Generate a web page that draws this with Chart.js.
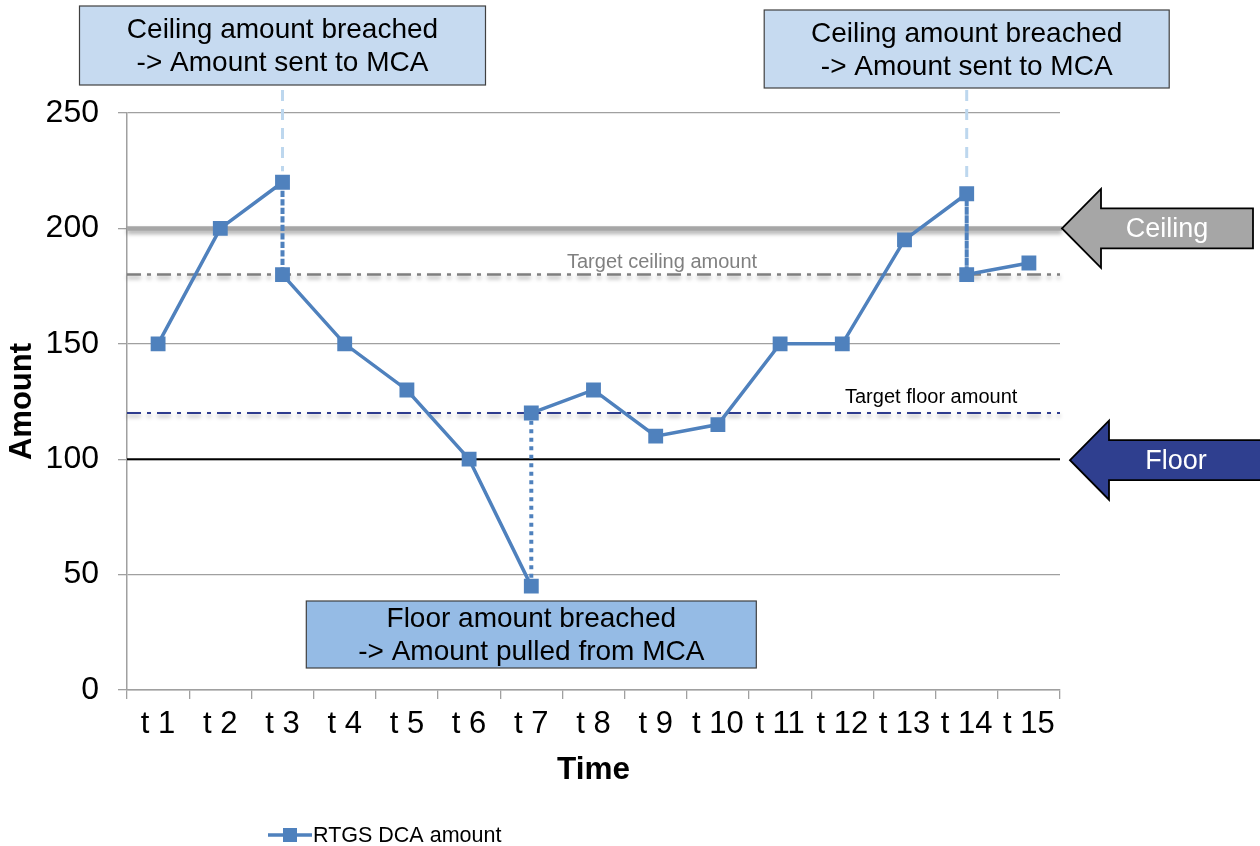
<!DOCTYPE html>
<html>
<head>
<meta charset="utf-8">
<title>RTGS DCA amount</title>
<script src="https://cdn.jsdelivr.net/npm/chart.js@4.4.0/dist/chart.umd.min.js"></script>
<style>
  html, body { margin: 0; padding: 0; background: #ffffff; }
  canvas { display: block; }
</style>
</head>
<body>
<canvas id="dcaChart" width="1260" height="846"></canvas>
<script>
// time slots on the x axis
const timeLabels = ['t 1', 't 2', 't 3', 't 4', 't 5', 't 6', 't 7', 't 8',
                    't 9', 't 10', 't 11', 't 12', 't 13', 't 14', 't 15'];

// balance readings; a slot listed twice = before and after the MCA transfer
const readingSlots = ['t 1', 't 2', 't 3', 't 3', 't 4', 't 5', 't 6', 't 7', 't 7',
                      't 8', 't 9', 't 10', 't 11', 't 12', 't 13', 't 14', 't 14', 't 15'];
const dcaAmounts = [150, 200, 220, 180, 150, 130, 100, 45, 120,
                    130, 110, 115, 150, 150, 195, 215, 180, 185];

const yTicks = [0, 50, 100, 150, 200, 250];

// liquidity thresholds
const ceilingAmount = 200;
const targetCeilingAmount = 180;
const targetFloorAmount = 120;
const floorAmount = 100;

const FONT = '"Liberation Sans", Arial, sans-serif';
const SERIES_BLUE = '#4f81bd';

let c = document.getElementById('dcaChart');
let Ctxt = c.getContext('2d');

function hline(ctx, area, py, color, width, dash, xEnd) {
    ctx.beginPath();
    ctx.strokeStyle = color;
    ctx.lineWidth = width;
    ctx.setLineDash(dash);
    ctx.moveTo(area.left, py);
    ctx.lineTo(xEnd, py);
    ctx.stroke();
}

// block arrow pointing left at a threshold line
function blockArrow(ctx, tipX, tipY, rightX, fill, text, textX) {
    const headLen = 39, headHalf = 39.5, shaftHalf = 20;
    ctx.save();
    ctx.beginPath();
    ctx.moveTo(tipX, tipY);
    ctx.lineTo(tipX + headLen, tipY - headHalf);
    ctx.lineTo(tipX + headLen, tipY - shaftHalf);
    ctx.lineTo(rightX, tipY - shaftHalf);
    ctx.lineTo(rightX, tipY + shaftHalf);
    ctx.lineTo(tipX + headLen, tipY + shaftHalf);
    ctx.lineTo(tipX + headLen, tipY + headHalf);
    ctx.closePath();
    ctx.fillStyle = fill;
    ctx.fill();
    ctx.lineWidth = 1.8;
    ctx.strokeStyle = '#000000';
    ctx.lineJoin = 'miter';
    ctx.stroke();
    ctx.fillStyle = '#ffffff';
    ctx.font = '27px ' + FONT;
    ctx.textAlign = 'center';
    ctx.textBaseline = 'middle';
    ctx.fillText(text, textX, tipY + 1);
    ctx.restore();
}

// call-out box with two lines of text
function noteBox(ctx, cx, top, w, h, fill, lines) {
    ctx.save();
    ctx.fillStyle = fill;
    ctx.fillRect(cx - w / 2, top, w, h);
    ctx.lineWidth = 1.2;
    ctx.strokeStyle = '#404040';
    ctx.strokeRect(cx - w / 2, top, w, h);
    ctx.fillStyle = '#000000';
    ctx.font = '28px ' + FONT;
    ctx.textAlign = 'center';
    ctx.textBaseline = 'middle';
    ctx.fillText(lines[0], cx, top + h / 2 - 15);
    ctx.fillText(lines[1], cx, top + h / 2 + 18);
    ctx.restore();
}

const thresholdPlugin = {
    id: 'thresholds',
    beforeDatasetsDraw(chart) {
        const ctx = chart.ctx;
        const a = chart.chartArea;
        const y = chart.scales.y;
        const x = chart.scales.x;

        ctx.save();
        ctx.lineCap = 'butt';
        ctx.shadowColor = 'rgba(0, 0, 0, 0.35)';
        ctx.shadowBlur = 4;
        ctx.shadowOffsetY = 3;
        hline(ctx, a, y.getPixelForValue(ceilingAmount), '#a6a6a6', 4.5, [], a.right + 2);
        hline(ctx, a, y.getPixelForValue(targetCeilingAmount), '#7f7f7f', 2.5, [14, 6, 4, 6], a.right);
        hline(ctx, a, y.getPixelForValue(targetFloorAmount), '#2e3c8e', 2, [14, 6, 4, 6], a.right);
        ctx.shadowColor = 'transparent';
        hline(ctx, a, y.getPixelForValue(floorAmount), '#000000', 2, [], a.right);

        // leaders from the ceiling call-outs down to the breaching points
        ctx.strokeStyle = '#bdd7ee';
        ctx.lineWidth = 3;
        ctx.setLineDash([11, 8]);
        [['t 3', 220, 90], ['t 14', 215, 90]].forEach(function (l) {
            const px = x.getPixelForValue(timeLabels.indexOf(l[0]));
            ctx.beginPath();
            ctx.moveTo(px, l[2]);
            ctx.lineTo(px, y.getPixelForValue(l[1]) - 11);
            ctx.stroke();
        });
        ctx.setLineDash([]);

        ctx.font = '20px ' + FONT;
        ctx.textAlign = 'left';
        ctx.textBaseline = 'middle';
        ctx.fillStyle = '#808080';
        ctx.fillText('Target ceiling amount', 567, y.getPixelForValue(targetCeilingAmount) - 12);
        ctx.fillStyle = '#000000';
        ctx.fillText('Target floor amount', 845, y.getPixelForValue(targetFloorAmount) - 16);
        ctx.restore();
    },
    afterDraw(chart) {
        const ctx = chart.ctx;
        const a = chart.chartArea;
        const y = chart.scales.y;
        const x = chart.scales.x;
        const slotX = function (s) { return x.getPixelForValue(timeLabels.indexOf(s)); };

        noteBox(ctx, slotX('t 3'), 6, 406, 79, '#c6daf0',
            ['Ceiling amount breached', '-> Amount sent to MCA']);
        noteBox(ctx, slotX('t 14'), 10, 405, 78, '#c6daf0',
            ['Ceiling amount breached', '-> Amount sent to MCA']);
        noteBox(ctx, slotX('t 7'), 601, 450, 67, '#95bbe5',
            ['Floor amount breached', '-> Amount pulled from MCA']);

        blockArrow(ctx, a.right + 2, y.getPixelForValue(ceilingAmount), 1253, '#a6a6a6', 'Ceiling', 1167);
        blockArrow(ctx, a.right + 10, y.getPixelForValue(floorAmount) + 1, 1264, '#2f3f8f', 'Floor', 1176);

        // legend
        ctx.save();
        ctx.strokeStyle = SERIES_BLUE;
        ctx.lineWidth = 3.5;
        ctx.beginPath();
        ctx.moveTo(268, 835);
        ctx.lineTo(312, 835);
        ctx.stroke();
        ctx.fillStyle = SERIES_BLUE;
        ctx.fillRect(283, 828, 14, 14);
        ctx.fillStyle = '#000000';
        ctx.font = '21.5px ' + FONT;
        ctx.textAlign = 'left';
        ctx.textBaseline = 'middle';
        ctx.fillText('RTGS DCA amount', 313, 836);
        ctx.restore();
    }
};

var ChartInst = new Chart(Ctxt, {
    type: 'line',
    data: {
        labels: timeLabels,
        datasets: [{
            label: 'RTGS DCA amount',
            data: readingSlots.map(function (s, i) { return { x: s, y: dcaAmounts[i] }; }),
            borderColor: SERIES_BLUE,
            backgroundColor: SERIES_BLUE,
            borderWidth: 3.5,
            pointStyle: 'rect',
            pointRadius: 10.5,
            pointBorderWidth: 0,
            tension: 0,
            segment: {
                // same slot twice -> dotted transfer link
                borderDash: function (ctx) {
                    return ctx.p0.parsed.x === ctx.p1.parsed.x ? [4, 4.5] : undefined;
                },
                borderWidth: function (ctx) {
                    return ctx.p0.parsed.x === ctx.p1.parsed.x ? 4 : undefined;
                }
            }
        }]
    },
    options: {
        responsive: false,
        devicePixelRatio: 1,
        animation: false,
        layout: { padding: { left: 0, top: 113, right: 200, bottom: 0 } },
        plugins: {
            legend: { display: false },
            tooltip: { enabled: false }
        },
        scales: {
            x: {
                type: 'category',
                offset: true,
                afterFit: function (s) { s.height = 156; },
                grid: {
                    offset: true,
                    drawOnChartArea: false,
                    drawTicks: true,
                    tickLength: 9,
                    color: '#a0a0a0',
                    lineWidth: 1.3
                },
                border: { display: true, color: '#a0a0a0', width: 1.5 },
                ticks: {
                    color: '#000000',
                    font: { family: FONT, size: 31 },
                    padding: 7,
                    maxRotation: 0,
                    autoSkip: false
                },
                title: {
                    display: true,
                    text: 'Time',
                    color: '#000000',
                    font: { family: FONT, size: 31.5, weight: 'bold' },
                    padding: { top: 0, bottom: 57 }
                }
            },
            y: {
                min: 0,
                max: 250,
                afterFit: function (s) { s.width = 127; },
                afterBuildTicks: function (s) { s.ticks = yTicks.map(function (v) { return { value: v }; }); },
                grid: {
                    color: '#a0a0a0',
                    lineWidth: 1.3,
                    tickLength: 9
                },
                border: { display: true, color: '#a0a0a0', width: 1.5 },
                ticks: {
                    color: '#000000',
                    font: { family: FONT, size: 32 },
                    padding: 19
                },
                title: {
                    display: true,
                    text: 'Amount',
                    color: '#000000',
                    font: { family: FONT, size: 31, weight: 'bold' },
                    padding: { top: 4, bottom: 0 }
                }
            }
        }
    },
    plugins: [thresholdPlugin]
});
</script>
</body>
</html>
